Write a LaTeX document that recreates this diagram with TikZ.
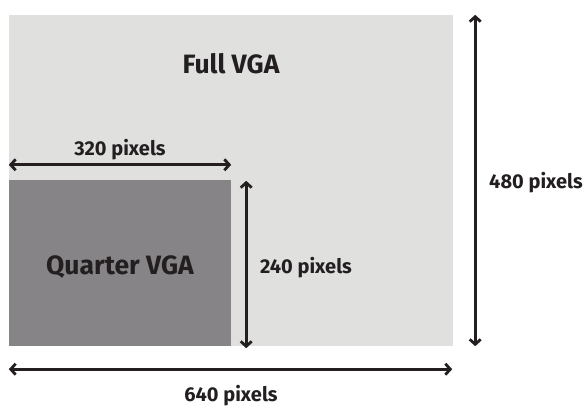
\documentclass[tikz,border=0pt]{standalone}
\usepackage{fontspec}
\setmainfont{Fira Sans}
\usetikzlibrary{arrows.meta}
\definecolor{lightgr}{HTML}{E0E0DF}
\definecolor{darkgr}{HTML}{868486}
\definecolor{ink}{HTML}{231F20}
\tikzset{
  fullbox/.style={fill=lightgr, draw=none, inner sep=0pt, minimum width=444pt, minimum height=331pt},
  quarterbox/.style={fill=darkgr, draw=none, inner sep=0pt, minimum width=222pt, minimum height=166pt},
  dim/.style={draw=ink, line width=2.8pt, {Straight Barb[length=5pt,width=11pt]}-{Straight Barb[length=5pt,width=11pt]}},
  biglabel/.style={text=ink, font=\fontsize{26.5}{28}\selectfont\bfseries, anchor=base, inner sep=0pt},
  smalllabel/.style={text=ink, font=\fontsize{20}{22}\selectfont\bfseries, anchor=base, inner sep=0pt}
}
\begin{document}
\begin{tikzpicture}[x=1pt,y=-1pt]
\useasboundingbox (0,0) rectangle (586,406);
\node[fullbox] (full) at (231,180.5) {};
\node[quarterbox] (quarter) at (120,263) {};
\coordinate (a320l) at ([yshift=15pt]quarter.north west);
\coordinate (a320r) at ([yshift=15pt]quarter.north east);
\coordinate (a240t) at ([xshift=15pt,yshift=-1pt]quarter.north east);
\coordinate (a240b) at ([xshift=15pt,yshift=-2pt]quarter.south east);
\coordinate (a480t) at ([xshift=22pt]full.north east);
\coordinate (a480b) at ([xshift=22pt]full.south east);
\coordinate (a640l) at ([yshift=-23pt]full.south west);
\coordinate (a640r) at ([yshift=-23pt,xshift=-1pt]full.south east);
\draw[dim] (a320l) -- (a320r);
\draw[dim] (a240t) -- (a240b);
\draw[dim] (a480t) -- (a480b);
\draw[dim] (a640l) -- (a640r);
\node[biglabel] (tfull) at (231,73.5) {Full VGA};
\node[biglabel] (tquarter) at (120,274) {Quarter VGA};
\node[smalllabel] (t320) at (120,156) {320 pixels};
\node[smalllabel] (t240) at (306,273) {240 pixels};
\node[smalllabel] (t480) at (536,188.5) {480 pixels};
\node[smalllabel] (t640) at (231,401) {640 pixels};
\end{tikzpicture}
\end{document}
